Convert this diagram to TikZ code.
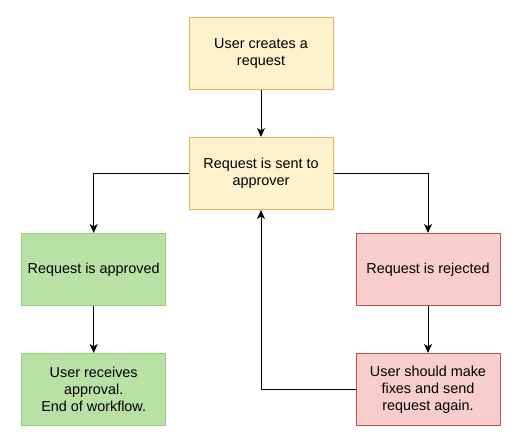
\documentclass[tikz,border=0pt]{standalone}
\usepackage{fontspec}
\setmainfont{Liberation Sans}
\usetikzlibrary{arrows.meta, positioning}

\definecolor{yellowfill}{HTML}{FFF2CC}
\definecolor{yellowline}{HTML}{D6B656}
\definecolor{greenfill}{HTML}{B9E0A5}
\definecolor{greenline}{HTML}{97D077}
\definecolor{redfill}{HTML}{F8CECC}
\definecolor{redline}{HTML}{B85450}

\begin{document}
\begin{tikzpicture}[x=1pt, y=-1pt,
    box/.style={draw, line width=1pt, minimum width=144pt, minimum height=72pt,
      inner sep=0pt, align=center, font=\fontsize{14.4}{17}\selectfont},
    yellowbox/.style={box, fill=yellowfill, draw=yellowline},
    greenbox/.style={box, fill=greenfill, draw=greenline},
    redbox/.style={box, fill=redfill, draw=redline},
    flow/.style={line width=1pt, -{Stealth[length=9pt, width=8pt, inset=2.5pt]}}]
  \useasboundingbox (0,0) rectangle (525,442);

  % workflow steps
  \foreach \x/\y/\name/\kind/\txt in {
      261/53.5/create/yellowbox/{User creates a\\request},
      261/173.5/send/yellowbox/{Request is sent to\\approver},
      93.7/269.5/approved/greenbox/{Request is approved},
      93.7/389.5/received/greenbox/{User receives\\approval.\\End of workflow.},
      428/269.5/rejected/redbox/{Request is rejected},
      428/389.5/fixes/redbox/{User should make\\fixes and send\\request again.}} {
    \node[\kind] (\name) at (\x,\y) {\txt};
  }

  % connectors
  \draw[flow] (create) -- (send);
  \draw[flow] (send.west) -| (approved.north);
  \draw[flow] (send.east) -| (rejected.north);
  \draw[flow] (approved) -- (received);
  \draw[flow] (rejected) -- (fixes);
  \draw[flow] (fixes.west) -| (send.south);
\end{tikzpicture}
\end{document}
